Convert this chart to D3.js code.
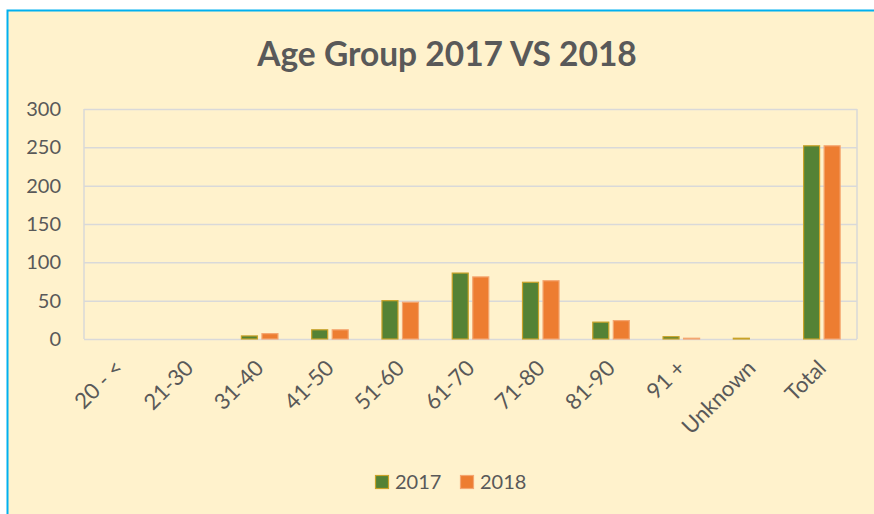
<!DOCTYPE html>
<html>
<head>
<meta charset="utf-8">
<script src="https://cdn.jsdelivr.net/npm/d3@7"></script>
<style>
	body { margin: 0; background: #fff; }
	svg { display: block; font-family: Lato, "Open Sans", sans-serif; }
</style>
</head>
<body>
<div id="chart"></div>
<script>
// donnees
const categories = ["20 - <", "21-30", "31-40", "41-50", "51-60", "61-70", "71-80", "81-90", "91 +", "Unknown", "Total"];
const series = ["2017", "2018"];
const values2017 = [0, 0, 4, 12, 50, 86, 74, 22, 3, 1, 252];
const values2018 = [0, 0, 7, 12, 48, 81, 76, 24, 1, 0, 252];
const yTicks = [0, 50, 100, 150, 200, 250, 300];

const colors = { "2017": "#548235", "2018": "#ED7D31" };
const strokes = { "2017": "#C9A227", "2018": "#F4A670" };

const width = 874, height = 514;
const plot = { left: 84, right: 857, top: 109, bottom: 339 };

const data = categories.map((c, i) => ({ cat: c, "2017": values2017[i], "2018": values2018[i] }));

const svg = d3.select("#chart").append("svg")
	.attr("width", width)
	.attr("height", height);

// fond + bordure
svg.append("rect")
	.attr("x", 7).attr("y", 10)
	.attr("width", width - 7).attr("height", height - 10)
	.attr("fill", "#FFF2CC");
svg.append("path")
	.attr("d", `M7.5,${height} V10.5 H${width}`)
	.attr("fill", "none")
	.attr("stroke", "#00B0F0")
	.attr("stroke-width", 2);

svg.append("text")
	.attr("x", 447).attr("y", 66)
	.attr("text-anchor", "middle")
	.attr("font-size", 33.5)
	.attr("font-weight", "bold")
	.attr("fill", "#595959")
	.text("Age Group 2017 VS 2018");

const x0 = d3.scaleBand()
	.domain(categories)
	.range([plot.left, plot.right])
	.paddingInner(0.48)
	.paddingOuter(0.24);

const x1 = d3.scaleBand()
	.domain(series)
	.range([0, x0.bandwidth()])
	.paddingInner(0.22);

const y = d3.scaleLinear()
	.domain([0, 300])
	.range([plot.bottom, plot.top]);

// grille
svg.append("g")
	.attr("class", "grid")
	.attr("transform", `translate(${plot.left},0)`)
	.call(d3.axisLeft(y).tickValues(yTicks).tickSize(-(plot.right - plot.left)).tickFormat(""))
	.call(g => g.select(".domain").remove())
	.call(g => g.selectAll("line").attr("stroke", "#D9D9D9").attr("stroke-width", 1.5));

svg.append("g")
	.selectAll("line")
	.data([plot.left, plot.right])
	.join("line")
	.attr("x1", d => d).attr("x2", d => d)
	.attr("y1", plot.top).attr("y2", plot.bottom)
	.attr("stroke", "#D9D9D9")
	.attr("stroke-width", 1.5);

// axe y
svg.append("g")
	.attr("transform", `translate(${plot.left},0)`)
	.call(d3.axisLeft(y).tickValues(yTicks).tickSize(0).tickPadding(23))
	.call(g => g.select(".domain").remove())
	.call(g => g.selectAll("text")
		.attr("font-size", 20)
		.attr("font-family", "Lato, sans-serif")
		.attr("fill", "#595959"));

// barres
svg.append("g")
	.selectAll("g")
	.data(data)
	.join("g")
	.attr("transform", d => `translate(${x0(d.cat)},0)`)
	.selectAll("rect")
	.data(d => series.map(s => ({ key: s, value: d[s] })).filter(v => v.value > 0))
	.join("rect")
	.attr("x", d => x1(d.key))
	.attr("y", d => y(d.value))
	.attr("width", x1.bandwidth())
	.attr("height", d => y(0) - y(d.value))
	.attr("fill", d => colors[d.key])
	.attr("stroke", d => strokes[d.key])
	.attr("stroke-width", 1.2);

// axe x
svg.append("g")
	.attr("transform", `translate(0,${plot.bottom})`)
	.call(d3.axisBottom(x0).tickSize(0).tickPadding(0))
	.call(g => g.select(".domain").remove())
	.call(g => g.selectAll("text")
		.attr("font-size", 22)
		.attr("font-family", "Lato, sans-serif")
		.attr("fill", "#595959")
		.attr("text-anchor", "end")
		.attr("dy", "0.35em")
		.attr("transform", "translate(0,25) rotate(-45)"));

// legende
const legend = svg.append("g").attr("transform", "translate(375,475)");
const items = legend.selectAll("g")
	.data(series)
	.join("g")
	.attr("transform", (d, i) => `translate(${i * 85},0)`);
items.append("rect")
	.attr("width", 13).attr("height", 13)
	.attr("x", 0.5).attr("y", 0.5)
	.attr("fill", d => colors[d])
	.attr("stroke", d => strokes[d])
	.attr("stroke-width", 1.2);
items.append("text")
	.attr("x", 20).attr("y", 14)
	.attr("font-size", 20)
	.attr("fill", "#595959")
	.text(d => d);
</script>
</body>
</html>
